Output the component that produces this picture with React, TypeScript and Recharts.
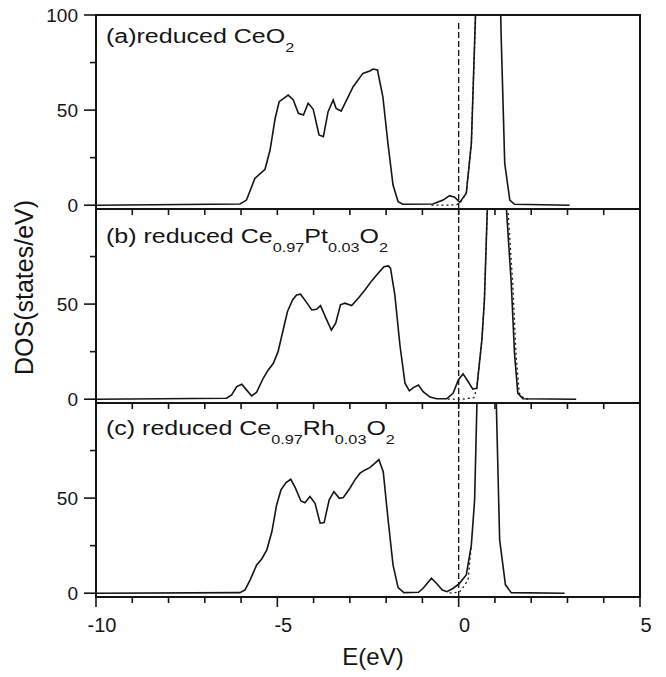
import React from 'react';
import { LineChart, Line, XAxis, YAxis, ReferenceArea, ReferenceLine } from 'recharts';

// (a) reduced CeO2
const energyA = [-10, -6.03, -5.85, -5.62, -5.34, -5.2, -5.06, -4.95, -4.7, -4.56, -4.42, -4.28, -4.15, -4.01, -3.85, -3.73, -3.6, -3.46, -3.38, -3.24, -2.91, -2.64, -2.45, -2.36, -2.24, -2.09, -1.95, -1.81, -1.67, -1.54, -0.71, -0.43, -0.25, -0.11, 0.03, 0.21, 0.35, 0.49, 0.62, 0.76, 0.89, 1.03, 1.17, 1.27, 1.41, 1.54, 3.06];
const dosA = [0, 0.6, 2.7, 14.1, 18.9, 29, 45.7, 54.4, 57.9, 55.3, 48.3, 47.4, 53.6, 50.4, 36.9, 36.0, 49.2, 55.3, 50.9, 49.5, 62.3, 69.3, 70.6, 71.6, 71.1, 57.0, 32.5, 10.6, 1.8, 0.5, 0.6, 2.7, 5.0, 4.2, 1.5, 6.3, 32.5, 115, 260, 330, 310, 230, 90, 22, 2.7, 0.5, 0];
const energyDotA = [-0.75, -0.3, -0.05, 0.05, 0.21, 0.35, 0.49];
const dotA = [0, 0, 0.3, 1.5, 6.3, 32.5, 115];

// (b) reduced Ce0.97Pt0.03O2
const energyB = [-10, -6.4, -6.26, -6.12, -5.98, -5.85, -5.71, -5.57, -5.39, -5.25, -5.11, -4.98, -4.84, -4.72, -4.58, -4.47, -4.36, -4.21, -4.05, -3.92, -3.81, -3.66, -3.51, -3.39, -3.26, -3.14, -2.95, -2.77, -2.58, -2.4, -2.22, -2.06, -1.94, -1.88, -1.76, -1.62, -1.48, -1.36, -1.25, -1.11, -0.98, -0.79, -0.61, -0.33, -0.15, -0.01, 0.12, 0.26, 0.39, 0.5, 0.64, 0.71, 0.84, 0.98, 1.1, 1.18, 1.31, 1.45, 1.54, 1.63, 1.77, 3.24];
const dosB = [0, 0.5, 2.3, 6.6, 7.9, 4.9, 1.7, 3.7, 11, 15.4, 18.9, 25, 36.4, 46.1, 52.2, 54.8, 55.2, 51.3, 46.9, 47.3, 49.2, 42.6, 36.4, 40, 49.6, 50.5, 49.2, 53.1, 57.5, 62.2, 66.2, 69.7, 70.1, 68.9, 54.8, 28.5, 8.4, 4.4, 6.1, 7.5, 4.0, 1.1, 0.2, 0.2, 3.2, 10.1, 13.3, 9.3, 5.3, 5.8, 31.2, 52.2, 130, 220, 230, 200, 102, 61, 24, 3.2, 0.2, 0];
const energyDotB = [-0.3, 0.1, 0.42, 0.5, 0.64, 0.71, 0.84, 0.98, 1.1, 1.22, 1.35, 1.49, 1.58, 1.67, 1.81, 2.0];
const dotB = [0, 0, 0.8, 5.8, 31.2, 52.2, 130, 220, 230, 200, 102, 61, 24, 3.2, 0.2, 0];

// (c) reduced Ce0.97Rh0.03O2
const energyC = [-10, -6.03, -5.89, -5.75, -5.57, -5.43, -5.29, -5.15, -5.02, -4.9, -4.76, -4.63, -4.5, -4.35, -4.24, -4.1, -3.96, -3.82, -3.71, -3.57, -3.44, -3.29, -3.18, -3.0, -2.86, -2.72, -2.58, -2.45, -2.33, -2.2, -2.08, -1.95, -1.81, -1.67, -1.51, -1.11, -0.98, -0.75, -0.59, -0.45, -0.32, -0.15, 0.01, 0.21, 0.35, 0.44, 0.51, 0.65, 0.78, 0.92, 1.04, 1.13, 1.29, 1.45, 2.92];
const dosC = [0, 0.3, 1.7, 7, 14.9, 18, 22.8, 32.4, 46.4, 54.3, 58.2, 59.9, 55.2, 48.5, 47.6, 50.8, 47.3, 36.8, 37.1, 49.1, 53.4, 49.9, 50.3, 55.2, 59.6, 63.1, 64.8, 66, 68, 70.2, 63.9, 39.4, 14.9, 2.9, 0.3, 0.5, 2.6, 7.9, 4.7, 1.7, 0.8, 2.6, 4.9, 9.6, 25.4, 49, 105, 230, 290, 200, 98, 28, 4.4, 0.3, 0];
const energyDotC = [-0.25, -0.11, 0.03, 0.14, 0.26, 0.35];
const dotC = [0, 0.3, 0.8, 3.5, 7, 25.4];

const xTicks = [-10, -9, -8, -7, -6, -5, -4, -3, -2, -1, 0, 1, 2, 3, 4, 5];
const xLabels = [-10, -5, 0, 5];
const yTicksTop = [0, 25, 50, 75, 100];
const yTicks = [0, 25, 50, 75];
const yLabelsTop = [0, 50, 100];
const yLabels = [0, 50];

const INK = '#151515';
const FONT = '"Liberation Sans", Arial, Helvetica, sans-serif';

type Row = { e: number; v: number };
const toRows = (es: number[], vs: number[]): Row[] => es.map((e, i) => ({ e, v: vs[i] }));

function XTick(props: any) {
  const { x, y, payload, labels } = props;
  const v = payload.value;
  const major = labels.includes(v);
  return (
    <g>
      <line x1={x} x2={x} y1={y} y2={y + (major ? 10 : 6)} stroke={INK} strokeWidth={1.6} />
      {major && (
        <text x={x + 6} y={y + 35} textAnchor="middle" fontSize={20} fontFamily={FONT} fill={INK}>
          {v}
        </text>
      )}
    </g>
  );
}

function YTick(props: any) {
  const { x, y, payload, labels } = props;
  const v = payload.value;
  const major = v % 50 === 0;
  return (
    <g>
      <line x1={x - (major ? 12 : 6)} x2={x} y1={y} y2={y} stroke={INK} strokeWidth={1.6} />
      {labels.includes(v) && (
        <text x={x - 18} y={y} textAnchor="end" dominantBaseline="central" fontSize={19} fontFamily={FONT} fill={INK}>
          {v}
        </text>
      )}
    </g>
  );
}

type PanelProps = {
  top: number;
  height: number;
  marginTop: number;
  axisHeight: number;
  solid: Row[];
  dotted: Row[];
  yTicks: number[];
  yLabels: number[];
  xLabels: number[];
  fermiTop: number;
};

function Panel(p: PanelProps) {
  return (
    <div style={{ position: 'absolute', left: 0, top: p.top }}>
      <LineChart width={666} height={p.height} margin={{ top: p.marginTop, right: 26, bottom: 0, left: 0 }}>
        <XAxis
          type="number"
          dataKey="e"
          domain={[-10, 5]}
          ticks={xTicks}
          interval={0}
          allowDataOverflow
          height={p.axisHeight}
          tickSize={0}
          tickMargin={0}
          tickLine={false}
          axisLine={{ stroke: INK, strokeWidth: 2 }}
          tick={(t: any) => <XTick {...t} labels={p.xLabels} />}
        />
        <YAxis
          type="number"
          domain={[-2, 100]}
          ticks={p.yTicks}
          interval={0}
          allowDataOverflow
          width={96}
          tickSize={0}
          tickMargin={0}
          tickLine={false}
          axisLine={{ stroke: INK, strokeWidth: 2 }}
          tick={(t: any) => <YTick {...t} labels={p.yLabels} />}
        />
        <ReferenceArea x1={-10} x2={5} y1={-2} y2={100} fill="none" fillOpacity={0} stroke={INK} strokeWidth={2} />
        <ReferenceLine
          segment={[{ x: 0, y: -2 }, { x: 0, y: p.fermiTop }]}
          stroke={INK}
          strokeWidth={1.3}
          strokeDasharray="6 3"
        />
        <Line data={p.dotted} dataKey="v" type="linear" dot={false} stroke={INK} strokeWidth={1.3} strokeDasharray="2 3" isAnimationActive={false} />
        <Line data={p.solid} dataKey="v" type="linear" dot={false} stroke={INK} strokeWidth={1.6} isAnimationActive={false} />
      </LineChart>
    </div>
  );
}

export default function App() {
  const sub = { fontSize: 13 };
  return (
    <div style={{ position: 'absolute', left: 0, top: 0, width: 666, height: 677, background: '#fff' }}>
      <Panel top={0} height={221} marginTop={15} axisHeight={12} solid={toRows(energyA, dosA)} dotted={toRows(energyDotA, dotA)} yTicks={yTicksTop} yLabels={yLabelsTop} xLabels={[]} fermiTop={96} />
      <Panel top={209} height={206} marginTop={0} axisHeight={12} solid={toRows(energyB, dosB)} dotted={toRows(energyDotB, dotB)} yTicks={yTicks} yLabels={yLabels} xLabels={[]} fermiTop={100} />
      <Panel top={403} height={274} marginTop={0} axisHeight={80} solid={toRows(energyC, dosC)} dotted={toRows(energyDotC, dotC)} yTicks={yTicks} yLabels={yLabels} xLabels={xLabels} fermiTop={100} />
      <svg width={666} height={677} style={{ position: 'absolute', left: 0, top: 0, pointerEvents: 'none' }} fontFamily={FONT} fill={INK}>
        <text transform="translate(106,43) scale(1.25,1)" fontSize={20}>
          <tspan>{'(a)reduced CeO'}</tspan>
          <tspan {...sub} dy={9}>2</tspan>
        </text>
        <text transform="translate(106,243) scale(1.25,1)" fontSize={20}>
          <tspan>{'(b) reduced Ce'}</tspan>
          <tspan {...sub} dy={9}>0.97</tspan>
          <tspan dy={-9}>Pt</tspan>
          <tspan {...sub} dy={9}>0.03</tspan>
          <tspan dy={-9}>O</tspan>
          <tspan {...sub} dy={9}>2</tspan>
        </text>
        <text transform="translate(106,435) scale(1.25,1)" fontSize={20}>
          <tspan>{'(c) reduced Ce'}</tspan>
          <tspan {...sub} dy={9}>0.97</tspan>
          <tspan dy={-9}>Rh</tspan>
          <tspan {...sub} dy={9}>0.03</tspan>
          <tspan dy={-9}>O</tspan>
          <tspan {...sub} dy={9}>2</tspan>
        </text>
        <text transform="translate(33,375) rotate(-90)" fontSize={25}>DOS(states/eV)</text>
        <text x={373} y={665} textAnchor="middle" fontSize={24}>E(eV)</text>
      </svg>
    </div>
  );
}
